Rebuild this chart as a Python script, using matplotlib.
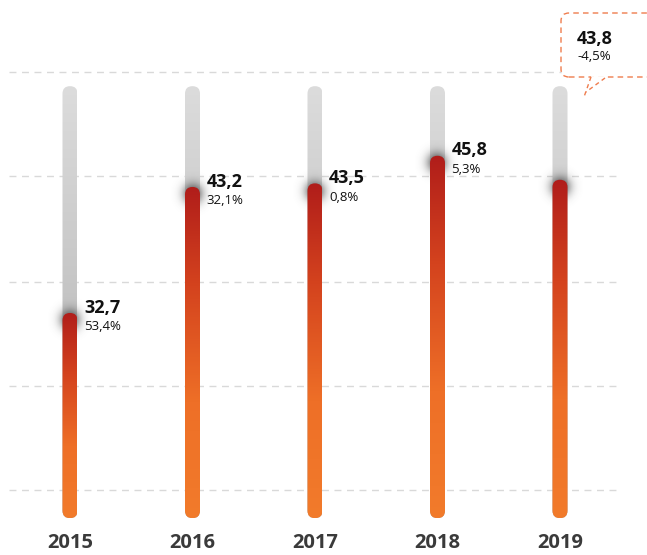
import numpy as np
import matplotlib
matplotlib.use("Agg")
import matplotlib.pyplot as plt
from matplotlib.patches import FancyBboxPatch
from matplotlib.colors import LinearSegmentedColormap

plt.rcParams['font.family'] = ['Open Sans', 'DejaVu Sans']

# ---- data ----
years = ["2015", "2016", "2017", "2018", "2019"]
values = [32.7, 43.2, 43.5, 45.8, 43.8]
changes = [53.4, 32.1, 0.8, 5.3, -4.5]

# ---- layout ----
W, H = 647, 555
fig = plt.figure(figsize=(W / 100, H / 100), dpi=100)
ax_bottom_px = 30
ax = fig.add_axes([0, ax_bottom_px / H, 1, (H - ax_bottom_px) / H])
X_PX = 122.5          # pixels per category step
Y_PX = 12.0           # pixels per value unit
x0_px = 70            # pixel position of first category
xmin = -x0_px / X_PX
xmax = xmin + W / X_PX
ymin, ymax = 15.03, 58.78
track_bottom, track_top = 15.6, 51.6
grid_levels = [17.95, 26.62, 35.28, 44.12, 52.78]
aspect = X_PX / Y_PX
bw = 15 / X_PX


def px2x(px):
    return (px - x0_px) / X_PX


def py2y(py):
    return ymax - py / Y_PX


def fmt(v):
    return f"{v:.1f}".replace(".", ",")


track_cmap = LinearSegmentedColormap.from_list("trk", ["#a9a9a9", "#c4c4c4", "#dcdcdc"])
bar_cmap = LinearSegmentedColormap.from_list(
    "bar", [(0, "#f27b2b"), (0.35, "#ee6f27"), (0.7, "#d4431e"), (1, "#b01d1a")])

grad = np.linspace(0, 1, 256).reshape(-1, 1)


def rounded(x, y0, y1, z):
    p = FancyBboxPatch((x - bw / 2, y0), bw, y1 - y0,
                       boxstyle=f"round,pad=0,rounding_size={bw / 2}",
                       mutation_aspect=aspect, facecolor="none",
                       edgecolor="none", zorder=z)
    ax.add_patch(p)
    return p


# gridlines
ax.hlines(grid_levels, -0.5, 4.5, colors="#d9d9d9", linewidth=1,
          linestyles=(0, (5, 4)), zorder=1)

# glow image
r_px = 22
yy, xx = np.mgrid[-r_px:r_px + 1, -r_px:r_px + 1]
rr = np.sqrt(xx ** 2 + yy ** 2)
glow = np.zeros((2 * r_px + 1, 2 * r_px + 1, 4))
glow[..., :3] = 0.28
glow[..., 3] = 0.9 * np.exp(-(rr / 10.0) ** 2)

for i, (v, c) in enumerate(zip(values, changes)):
    # track
    tp = rounded(i, track_bottom, track_top, 2)
    im = ax.imshow(grad, extent=[i - bw / 2, i + bw / 2, track_bottom, track_top],
                   origin="lower", cmap=track_cmap, aspect="auto", zorder=2)
    im.set_clip_path(tp)
    # glow around the cap
    cy = v - 7.5 / Y_PX
    ax.imshow(glow, extent=[i - r_px / X_PX, i + r_px / X_PX,
                            cy - r_px / Y_PX, cy + r_px / Y_PX],
              origin="lower", aspect="auto", zorder=3, interpolation="bilinear")
    # bar
    bp = rounded(i, track_bottom, v, 4)
    im2 = ax.imshow(grad, extent=[i - bw / 2, i + bw / 2, track_bottom, v],
                    origin="lower", cmap=bar_cmap, aspect="auto", zorder=4)
    im2.set_clip_path(bp)
    if i < len(values) - 1:
        ax.text(i + 14 / X_PX, v + 0.45, fmt(v), fontsize=13, fontweight="bold",
                color="#111111", ha="left", va="center", zorder=6)
        ax.text(i + 14 / X_PX, v - 1.15, fmt(c) + "%", fontsize=9.5,
                color="#111111", ha="left", va="center", zorder=6)

# callout for the last bar
orange = "#ef7d4e"
li = len(values) - 1
box = FancyBboxPatch((px2x(561), py2y(77)), px2x(720) - px2x(561), (77 - 13) / Y_PX,
                     boxstyle=f"round,pad=0,rounding_size={8 / X_PX}",
                     mutation_aspect=aspect, facecolor="white", edgecolor=orange,
                     linewidth=1, linestyle=(0, (4, 3)), zorder=5)
ax.add_patch(box)
ax.plot([px2x(592), px2x(604)], [py2y(77), py2y(77)], color="white", lw=2, zorder=5.5)
ax.plot([px2x(591), px2x(584)], [py2y(77), py2y(97)], color=orange, lw=1,
        linestyle=(0, (3, 2.5)), zorder=5.6)
ax.plot([px2x(605), px2x(586)], [py2y(78), py2y(92)], color=orange, lw=1,
        linestyle=(0, (3, 2.5)), zorder=5.6)
ax.text(px2x(577), py2y(39), fmt(values[li]), fontsize=13, fontweight="bold",
        color="#111111", ha="left", va="center", zorder=6)
ax.text(px2x(577), py2y(57), fmt(changes[li]) + "%", fontsize=9.5,
        color="#111111", ha="left", va="center", zorder=6)

ax.set_xlim(xmin, xmax)
ax.set_ylim(ymin, ymax)
ax.set_xticks(range(len(years)), years)
ax.set_yticks([])
ax.tick_params(axis="x", length=0, pad=6, labelsize=14.5, labelcolor="#3a3a3a")
for lab in ax.get_xticklabels():
    lab.set_fontweight("bold")
for s in ax.spines.values():
    s.set_visible(False)
ax.set_facecolor("white")

fig.savefig("out.png", dpi=100)
